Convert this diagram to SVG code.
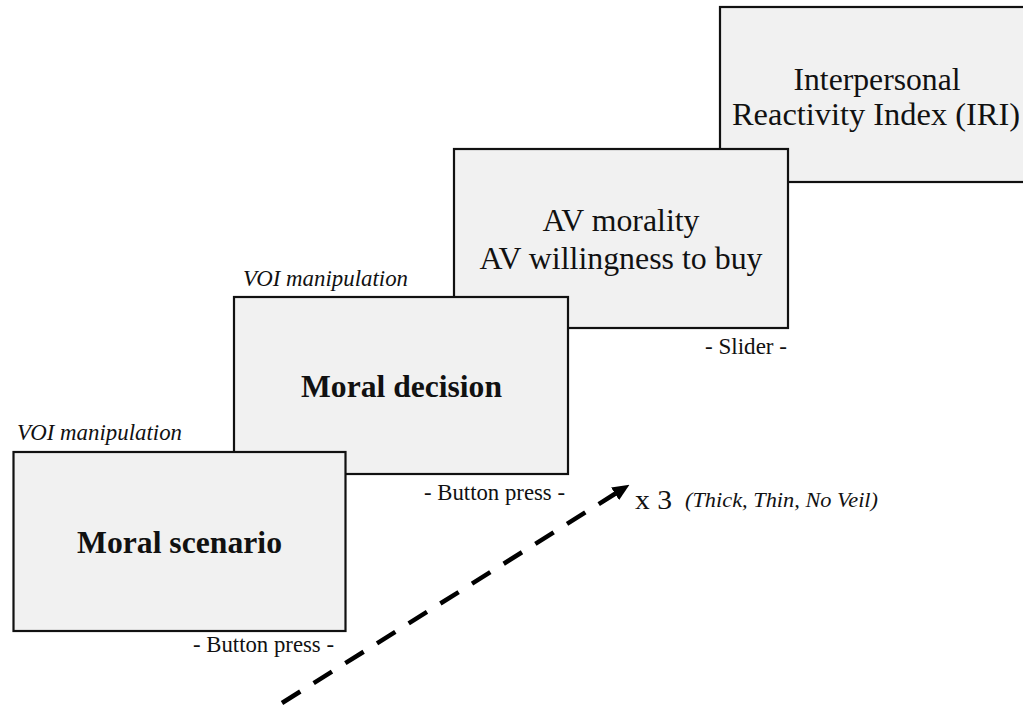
<svg xmlns="http://www.w3.org/2000/svg" width="1023" height="706" viewBox="0 0 1023 706">
  <style>
    text { font-family: "Liberation Serif", "Times New Roman", serif; fill: #111; }
    .box { fill: #f1f1f1; stroke: #111; stroke-width: 2.2; }
    .title { font-weight: bold; font-size: 32px; text-anchor: middle; }
    .body { font-size: 31px; text-anchor: middle; }
    .note { font-size: 23px; }
    .it { font-style: italic; }
    .flow { fill: none; stroke: #000; stroke-width: 4.5; stroke-dasharray: 21.6 15.8; }
  </style>
  <defs>
    <marker id="head" markerUnits="userSpaceOnUse" markerWidth="17" markerHeight="15" viewBox="0 0 17 15" refX="0.5" refY="7.5" orient="auto">
      <path d="M0,0 L17,7.5 L0,15 z" fill="#000"/>
    </marker>
  </defs>

  <!-- back to front: questionnaire, ratings, decision, scenario -->
  <g id="iri">
    <rect class="box" x="720" y="7" width="314" height="175"/>
    <text class="body" x="877" y="89.5" textLength="167" lengthAdjust="spacingAndGlyphs">Interpersonal</text>
    <text class="body" x="876" y="125" textLength="288" lengthAdjust="spacingAndGlyphs">Reactivity Index (IRI)</text>
  </g>

  <g id="av-ratings">
    <rect class="box" x="454" y="149" width="334" height="179"/>
    <text class="body" x="621" y="231" textLength="157" lengthAdjust="spacingAndGlyphs">AV morality</text>
    <text class="body" x="621" y="269" textLength="283" lengthAdjust="spacingAndGlyphs">AV willingness to buy</text>
    <text class="note" x="705" y="354" textLength="82" lengthAdjust="spacingAndGlyphs">- Slider -</text>
  </g>

  <g id="moral-decision">
    <rect class="box" x="234" y="297" width="334" height="177"/>
    <text class="title" x="401.5" y="397" textLength="201" lengthAdjust="spacingAndGlyphs">Moral decision</text>
    <text class="note it" x="243" y="286" textLength="165" lengthAdjust="spacingAndGlyphs">VOI manipulation</text>
    <text class="note" x="424" y="500" textLength="141" lengthAdjust="spacingAndGlyphs">- Button press -</text>
  </g>

  <g id="moral-scenario">
    <rect class="box" x="13.5" y="452" width="332" height="179"/>
    <text class="title" x="179.5" y="553" textLength="205" lengthAdjust="spacingAndGlyphs">Moral scenario</text>
    <text class="note it" x="17" y="440" textLength="165" lengthAdjust="spacingAndGlyphs">VOI manipulation</text>
    <text class="note" x="193" y="652" textLength="141" lengthAdjust="spacingAndGlyphs">- Button press -</text>
  </g>

  <!-- repetition arrow -->
  <g id="connectors">
    <line class="flow" x1="282" y1="703" x2="615.5" y2="493.5" marker-end="url(#head)"/>
  </g>

  <g id="repeat-label">
    <text class="note" style="font-size:28px" x="635" y="509" textLength="37" lengthAdjust="spacingAndGlyphs">x 3</text>
    <text class="note it" style="font-size:21px" x="685" y="507" textLength="193" lengthAdjust="spacingAndGlyphs">(Thick, Thin, No Veil)</text>
  </g>
</svg>
